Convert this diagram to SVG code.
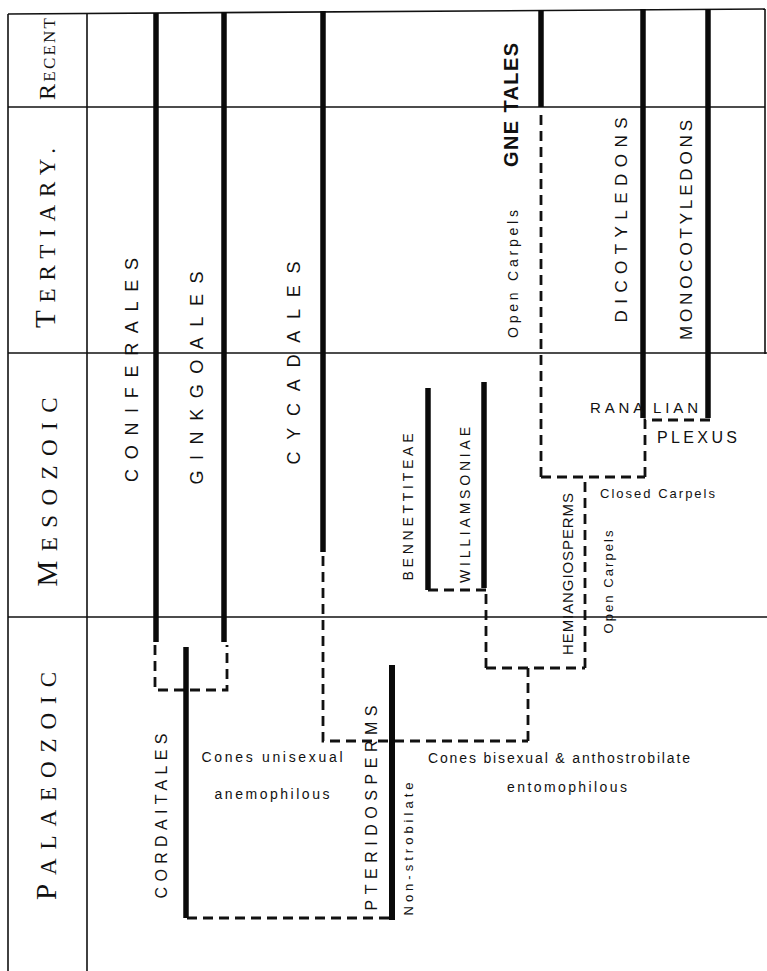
<svg xmlns="http://www.w3.org/2000/svg" width="767" height="971" viewBox="0 0 767 971">
<style>
.grid{stroke:#111;stroke-width:1.6;fill:none}
.stem{stroke:#0a0a0a;stroke-width:5.5;fill:none;stroke-linecap:butt}
.dash{stroke:#111;stroke-width:2.8;fill:none;stroke-dasharray:10 6}
.era{font-family:"Liberation Serif",serif;fill:#111;font-size:23px}
.era .cap{font-size:29px}
.lbl{font-family:"Liberation Sans",Arial,sans-serif;fill:#111;font-size:18px}
.sm{font-family:"Liberation Sans",Arial,sans-serif;fill:#111;font-size:14px}
.note{font-family:"Liberation Sans",Arial,sans-serif;fill:#111;font-size:13px}
</style>
<rect width="767" height="971" fill="#fff"/>
<g id="grid">
<line class="grid" x1="8" y1="14" x2="765" y2="9"/>
<line class="grid" x1="8" y1="14" x2="8" y2="971"/>
<line class="grid" x1="87" y1="14" x2="87" y2="971"/>
<line class="grid" x1="765" y1="9" x2="765" y2="354"/>
<line class="grid" x1="8" y1="107" x2="765" y2="107"/>
<line class="grid" x1="8" y1="353" x2="767" y2="353"/>
<line class="grid" x1="8" y1="617" x2="767" y2="617"/>
</g>
<g id="eras">
<text class="era" transform="translate(55,59) rotate(-90)" text-anchor="middle" textLength="82" lengthAdjust="spacing" style="font-size:17px"><tspan style="font-size:24px">R</tspan>ECENT</text>
<text class="era" transform="translate(55,238) rotate(-90)" text-anchor="middle" textLength="180" lengthAdjust="spacing"><tspan class="cap">T</tspan>ERTIARY.</text>
<text class="era" transform="translate(57,492) rotate(-90)" text-anchor="middle" textLength="189" lengthAdjust="spacing"><tspan class="cap">M</tspan>ESOZOIC</text>
<text class="era" transform="translate(56,786) rotate(-90)" text-anchor="middle" textLength="228" lengthAdjust="spacing"><tspan class="cap">P</tspan>ALAEOZOIC</text>
</g>
<g id="connectors">
<path class="dash" d="M155,645 V690 H227 V645"/>
<path class="dash" d="M323,556 V741 H528"/>
<path class="dash" d="M528,741 V668"/>
<path class="dash" d="M486,668 H585"/>
<path class="dash" d="M486,668 V592"/>
<path class="dash" d="M428,590 H486"/>
<path class="dash" d="M585,668 V480"/>
<path class="dash" d="M541,477 H645"/>
<path class="dash" d="M541,477 V110"/>
<path class="dash" d="M645,477 V420 H710"/>
<path class="dash" d="M187,918 H392"/>
</g>
<g id="coniferales">
<path class="stem" d="M156,13 V642"/>
<text class="lbl" transform="translate(138,370) rotate(-90)" text-anchor="middle" textLength="224" lengthAdjust="spacing">CONIFERALES</text>
</g>
<g id="ginkgoales">
<path class="stem" d="M224,12 V642"/>
<text class="lbl" transform="translate(203,378) rotate(-90)" text-anchor="middle" textLength="213" lengthAdjust="spacing">GINKGOALES</text>
</g>
<g id="cycadales">
<path class="stem" d="M323,11 V552"/>
<text class="lbl" transform="translate(300,363) rotate(-90)" text-anchor="middle" textLength="203" lengthAdjust="spacing">CYCADALES</text>
</g>
<g id="gnetales">
<path class="stem" d="M541,10 V107"/>
<text class="lbl" transform="translate(518,105) rotate(-90)" text-anchor="middle" textLength="124" lengthAdjust="spacing" style="font-weight:bold;font-size:20px">GNE TALES</text>
<text class="sm" transform="translate(518,274) rotate(-90)" text-anchor="middle" textLength="128" lengthAdjust="spacing">Open Carpels</text>
</g>
<g id="dicotyledons">
<path class="stem" d="M643,9 V418"/>
<text class="lbl" transform="translate(627,220) rotate(-90)" text-anchor="middle" textLength="205" lengthAdjust="spacing" style="font-size:17px">DICOTYLEDONS</text>
</g>
<g id="monocotyledons">
<path class="stem" d="M708,9 V418"/>
<text class="lbl" transform="translate(692,230) rotate(-90)" text-anchor="middle" textLength="220" lengthAdjust="spacing" style="font-size:17px">MONOCOTYLEDONS</text>
</g>
<g id="ranalian-plexus">
<text class="lbl" x="590" y="413" style="font-size:15px" textLength="108" lengthAdjust="spacing">RANA<tspan dx="6">LIAN</tspan></text>
<text class="lbl" x="657" y="443" textLength="80" lengthAdjust="spacing" style="font-size:16px">PLEXUS</text>
<text class="note" x="600" y="498" textLength="115" lengthAdjust="spacing">Closed Carpels</text>
</g>
<g id="bennettiteae">
<path class="stem" d="M428,388 V590"/>
<text class="lbl" transform="translate(413,507) rotate(-90)" text-anchor="middle" textLength="147" lengthAdjust="spacing" style="font-size:14px">BENNETTITEAE</text>
</g>
<g id="williamsoniae">
<path class="stem" d="M484,382 V588"/>
<text class="lbl" transform="translate(470,505) rotate(-90)" text-anchor="middle" textLength="156" lengthAdjust="spacing" style="font-size:14px">WILLIAMSONIAE</text>
</g>
<g id="hemiangiosperms">
<text class="lbl" transform="translate(573,574) rotate(-90)" text-anchor="middle" textLength="162" lengthAdjust="spacing" style="font-size:15px">HEMIANGIOSPERMS</text>
<text class="note" transform="translate(613,582) rotate(-90)" text-anchor="middle" textLength="103" lengthAdjust="spacing">Open Carpels</text>
</g>
<g id="cordaitales">
<path class="stem" d="M186,647 V918"/>
<text class="lbl" transform="translate(167,816) rotate(-90)" text-anchor="middle" textLength="165" lengthAdjust="spacing" style="font-size:16px">CORDAITALES</text>
<text class="sm" x="272" y="762" text-anchor="middle" textLength="141" lengthAdjust="spacing">Cones unisexual</text>
<text class="sm" x="272" y="799" text-anchor="middle" textLength="115" lengthAdjust="spacing">anemophilous</text>
</g>
<g id="pteridosperms">
<path class="stem" d="M392,665 V920" style="stroke-width:6"/>
<text class="lbl" transform="translate(377,808) rotate(-90)" text-anchor="middle" textLength="205" lengthAdjust="spacing" style="font-size:16px">PTERIDOSPERMS</text>
<text class="note" transform="translate(413,849) rotate(-90)" text-anchor="middle" textLength="133" lengthAdjust="spacing">Non-strobilate</text>
<text class="sm" x="559" y="763" text-anchor="middle" textLength="262" lengthAdjust="spacing">Cones bisexual &amp; anthostrobilate</text>
<text class="sm" x="567" y="792" text-anchor="middle" textLength="120" lengthAdjust="spacing">entomophilous</text>
</g>
</svg>
